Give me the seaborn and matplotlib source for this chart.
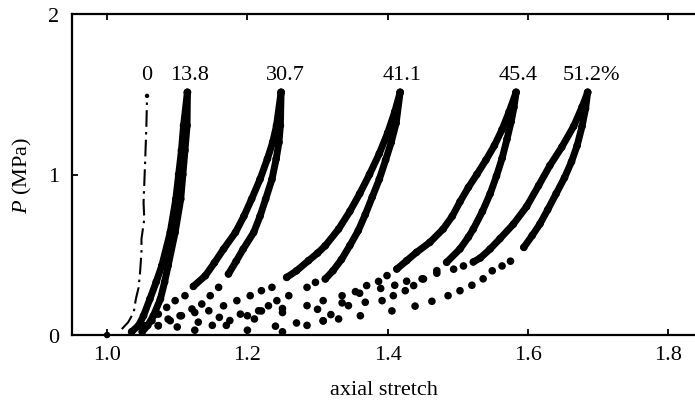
import matplotlib
matplotlib.use("Agg")
import matplotlib.pyplot as plt
import seaborn as sns
import pandas as pd

# ---- data ----
c0_x = [1.021, 1.030, 1.038, 1.041, 1.045, 1.047, 1.049, 1.049, 1.053, 1.052, 1.054, 1.056, 1.057]
c0_p = [0.037, 0.079, 0.141, 0.224, 0.297, 0.390, 0.515, 0.598, 0.722, 0.826, 1.05, 1.30, 1.49]

s138_load_x = [1.035, 1.045, 1.052, 1.061, 1.070, 1.078, 1.090, 1.098, 1.102, 1.106, 1.109, 1.1145]
s138_load_p = [0.02, 0.06, 0.12, 0.224, 0.33, 0.432, 0.639, 0.847, 1.0, 1.15, 1.305, 1.512]
s138_unl_x = [1.050, 1.058, 1.066, 1.076, 1.082, 1.087, 1.097, 1.105, 1.108, 1.111, 1.114, 1.1145]
s138_unl_p = [0.02, 0.06, 0.12, 0.224, 0.33, 0.432, 0.639, 0.847, 1.0, 1.15, 1.305, 1.512]

s307_load_x = [1.054, 1.064, 1.073, 1.085, 1.097, 1.111, 1.123, 1.140, 1.153, 1.166, 1.183, 1.195,
               1.206, 1.218, 1.2285, 1.236, 1.2415, 1.248]
s307_load_p = [0.058, 0.089, 0.130, 0.172, 0.214, 0.245, 0.303, 0.369, 0.45, 0.535, 0.639, 0.74,
               0.847, 0.97, 1.097, 1.2, 1.305, 1.512]
s307_unl_x = [1.073, 1.090, 1.106, 1.121, 1.135, 1.147, 1.159, 1.173, 1.184, 1.194, 1.209, 1.218,
              1.226, 1.235, 1.241, 1.245, 1.247, 1.248]
s307_unl_p = [0.058, 0.089, 0.120, 0.162, 0.193, 0.245, 0.297, 0.380, 0.46, 0.535, 0.639, 0.74,
              0.847, 0.97, 1.097, 1.2, 1.305, 1.512]

s411_load_x = [1.073, 1.087, 1.104, 1.125, 1.145, 1.166, 1.185, 1.204, 1.220, 1.235, 1.256, 1.270, 1.287,
               1.300, 1.311, 1.330, 1.346, 1.360, 1.374, 1.388, 1.400, 1.410, 1.4177]
s411_load_p = [0.058, 0.099, 0.120, 0.140, 0.151, 0.182, 0.214, 0.245, 0.276, 0.297, 0.359, 0.400, 0.463,
               0.51, 0.556, 0.66, 0.77, 0.88, 1.0, 1.13, 1.26, 1.39, 1.512]
s411_unl_x = [1.125, 1.150, 1.175, 1.200, 1.216, 1.230, 1.242, 1.259, 1.285, 1.297, 1.311, 1.322, 1.334,
              1.346, 1.358, 1.368, 1.378, 1.388, 1.397, 1.405, 1.412, 1.4177]
s411_unl_p = [0.03, 0.06, 0.09, 0.120, 0.151, 0.182, 0.214, 0.245, 0.297, 0.328, 0.349, 0.40, 0.47,
              0.557, 0.65, 0.75, 0.86, 0.97, 1.09, 1.2, 1.32, 1.512]

s454_load_x = [1.10, 1.13, 1.16, 1.19, 1.22, 1.25, 1.285, 1.308, 1.335, 1.354, 1.370, 1.387, 1.399, 1.413,
               1.427, 1.441, 1.460, 1.479, 1.492, 1.503, 1.515, 1.527, 1.540, 1.552, 1.563, 1.573, 1.583]
s454_load_p = [0.05, 0.08, 0.11, 0.13, 0.15, 0.165, 0.183, 0.214, 0.245, 0.270, 0.308, 0.334, 0.370, 0.411,
               0.463, 0.515, 0.577, 0.660, 0.74, 0.83, 0.92, 1.0, 1.09, 1.18, 1.28, 1.39, 1.512]
s454_unl_x = [1.25, 1.285, 1.308, 1.319, 1.344, 1.368, 1.392, 1.408, 1.425, 1.437, 1.451, 1.470, 1.484,
              1.503, 1.515, 1.522, 1.535, 1.546, 1.555, 1.563, 1.570, 1.576, 1.580, 1.583]
s454_unl_p = [0.02, 0.06, 0.089, 0.127, 0.183, 0.204, 0.214, 0.245, 0.276, 0.308, 0.349, 0.401, 0.453,
              0.536, 0.61, 0.660, 0.77, 0.88, 0.99, 1.10, 1.22, 1.33, 1.42, 1.512]

s512_load_x = [1.17, 1.21, 1.25, 1.30, 1.335, 1.36, 1.39, 1.41, 1.427, 1.449, 1.470, 1.494, 1.508, 1.522,
               1.532, 1.546, 1.560, 1.579, 1.598, 1.615, 1.631, 1.648, 1.665, 1.677, 1.685]
s512_load_p = [0.06, 0.10, 0.14, 0.16, 0.20, 0.26, 0.29, 0.31, 0.335, 0.35, 0.385, 0.41, 0.43, 0.455,
               0.48, 0.536, 0.60, 0.69, 0.80, 0.93, 1.055, 1.17, 1.30, 1.42, 1.512]
s512_unl_x = [1.20, 1.24, 1.27, 1.308, 1.33, 1.361, 1.406, 1.439, 1.463, 1.486, 1.503, 1.520, 1.536, 1.549,
              1.563, 1.575, 1.594, 1.606, 1.617, 1.628, 1.640, 1.652, 1.662, 1.670, 1.677, 1.682, 1.685]
s512_unl_p = [0.03, 0.055, 0.075, 0.087, 0.10, 0.12, 0.15, 0.18, 0.21, 0.245, 0.276, 0.31, 0.35, 0.40,
              0.43, 0.46, 0.546, 0.62, 0.692, 0.78, 0.88, 0.98, 1.08, 1.18, 1.30, 1.41, 1.512]

origin_x = [1.0]
origin_p = [0.0]

label_texts = ["0", "13.8", "30.7", "41.1", "45.4", "51.2%"]
label_x = [1.0565, 1.117, 1.254, 1.420, 1.586, 1.691]
label_p = [1.626, 1.626, 1.626, 1.626, 1.626, 1.626]

x_ticks = [1.0, 1.2, 1.4, 1.6, 1.8]
x_ticklabels = ["1.0", "1.2", "1.4", "1.6", "1.8"]
y_ticks = [0, 1, 2]
y_ticklabels = ["0", "1", "2"]

# ---- style ----
sns.set_theme(style="white")
plt.rcParams["font.family"] = ["Liberation Serif", "DejaVu Serif"]
plt.rcParams["mathtext.fontset"] = "custom"
plt.rcParams["mathtext.rm"] = "Liberation Serif"
plt.rcParams["mathtext.it"] = "Liberation Serif:italic"

W, H = 695, 402
fig = plt.figure(figsize=(W / 100, H / 100), dpi=100)
ax = fig.add_axes([72 / W, 66 / H, 623 / W, 321 / H])

LW = 5.0
MS = 30

branches = [
    (s138_load_x, s138_load_p, 0.0), (s138_unl_x, s138_unl_p, 0.0),
    (s307_load_x, s307_load_p, 0.30), (s307_unl_x, s307_unl_p, 0.30),
    (s411_load_x, s411_load_p, 0.34), (s411_unl_x, s411_unl_p, 0.34),
    (s454_load_x, s454_load_p, 0.40), (s454_unl_x, s454_unl_p, 0.45),
    (s512_load_x, s512_load_p, 0.45), (s512_unl_x, s512_unl_p, 0.50),
]

for bx, bp, thr in branches:
    df = pd.DataFrame({"x": bx, "p": bp})
    solid = df[df["p"] >= thr]
    sns.lineplot(data=solid, x="x", y="p", sort=False, estimator=None, ax=ax,
                 color="black", lw=LW, solid_capstyle="round", solid_joinstyle="round")
    sns.scatterplot(data=df, x="x", y="p", ax=ax, color="black", s=MS,
                    edgecolor="none", linewidth=0, zorder=3)

df0 = pd.DataFrame({"x": c0_x, "p": c0_p})
sns.lineplot(data=df0, x="x", y="p", sort=False, estimator=None, ax=ax,
             color="black", lw=1.5, linestyle=(0, (8, 2.5, 1.2, 2.5)))
sns.scatterplot(x=[c0_x[-1]], y=[c0_p[-1]], ax=ax, color="black", s=10,
                edgecolor="none", linewidth=0)
sns.scatterplot(x=origin_x, y=origin_p, ax=ax, color="black", s=22,
                edgecolor="none", linewidth=0, zorder=4, clip_on=False)

for t, lx, lp in zip(label_texts, label_x, label_p):
    ax.text(lx, lp, t, ha="center", va="center", fontsize=16, color="black")

ax.set_xlim(0.95, 1.838)
ax.set_ylim(0, 2)
ax.set_xticks(x_ticks)
ax.set_xticklabels(x_ticklabels)
ax.set_yticks(y_ticks)
ax.set_yticklabels(y_ticklabels)
ax.tick_params(axis="x", direction="in", top=True, bottom=True, length=4, width=1.3,
               labelsize=16, pad=7, colors="black")
ax.tick_params(axis="y", direction="in", left=True, right=False, length=4, width=1.3,
               labelsize=16, pad=9, colors="black")
ax.set_xlabel("axial stretch", fontsize=16, labelpad=12, color="black")
ax.set_ylabel(r"$P$ (MPa)", fontsize=16, labelpad=10, color="black")

for side in ["left", "bottom", "top"]:
    ax.spines[side].set_visible(True)
    ax.spines[side].set_color("black")
    ax.spines[side].set_linewidth(1.6)
ax.spines["right"].set_visible(False)

fig.savefig("out.png", dpi=100)
